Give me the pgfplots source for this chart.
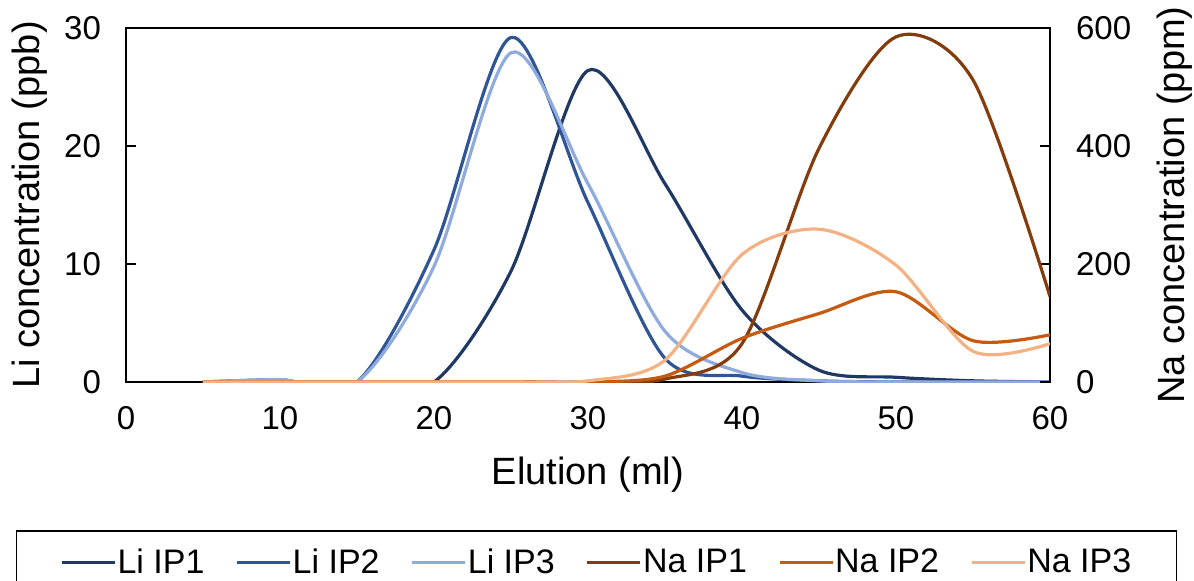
\documentclass[border=0pt]{standalone}
\usepackage{pgfplots}
\pgfplotsset{compat=1.18}
\usepackage{fontspec}
\setmainfont{Liberation Sans}
\definecolor{liA}{HTML}{1F3864}
\definecolor{liB}{HTML}{2F5597}
\definecolor{liC}{HTML}{8FAADC}
\definecolor{naA}{HTML}{843C0C}
\definecolor{naB}{HTML}{C55A11}
\definecolor{naC}{HTML}{F4B183}
\begin{document}
\begin{tikzpicture}
\pgfplotsset{
  common/.style={
    width=462pt, height=177pt, scale only axis,
    at={(0,0)}, anchor=south west,
    xmin=0, xmax=60,
    /pgf/number format/assume math mode=true,
    tick label style={font=\fontsize{16.5}{19}\selectfont},
    tick align=inside, major tick length=5pt,
    tick style={black, line width=0.9pt},
    every axis plot/.append style={line width=1.6pt, smooth, no markers},
  }
}
\begin{axis}[common,
  ymin=0, ymax=30, ytick={0,10,20,30},
  xtick={0,10,...,60},
  ytick pos=left, xtick pos=bottom,
  x tick style={draw=none},
  axis line style={black, line width=1pt},
  yticklabel style={xshift=-9pt},
  xticklabel style={yshift=-8.5pt},
  every axis y label/.style={at={(axis description cs:0,0.5)}, xshift=-48pt, rotate=90, anchor=center, font=\fontsize{19}{22}\selectfont},
  every axis x label/.style={at={(axis description cs:0.5,0)}, yshift=-46.5pt, anchor=center, font=\fontsize{19}{22}\selectfont},
  ylabel={Li concentration (ppb)},
  xlabel={Elution (ml)},
]
\addplot[color=liA] coordinates {(5,0) (10,0) (15,0) (20,0) (25,9.4) (30,26.4) (35,16.8) (40,6.1) (45,1.0) (50,0.4) (55,0.1) (60,0)};
\addplot[color=liB] coordinates {(5,0) (10,0.2) (15,0) (20,11.2) (25,29.2) (30,15.2) (35,2.0) (40,0.5) (45,0.1) (50,0) (55,0) (60,0)};
\addplot[color=liC] coordinates {(5,0) (10,0.2) (15,0) (20,9.8) (25,27.9) (30,16.8) (35,4.3) (40,0.8) (45,0.1) (50,0) (55,0) (60,0)};
\end{axis}
\begin{axis}[common,
  ymin=0, ymax=600, ytick={0,200,400,600},
  axis x line=none, axis y line*=right,
  axis line style={black, line width=1pt},
  yticklabel style={xshift=9.5pt},
  every axis y label/.style={at={(axis description cs:1,0.5)}, xshift=62.5pt, rotate=90, anchor=center, font=\fontsize{19}{22}\selectfont},
  ylabel={Na concentration (ppm)},
  legend columns=6,
  legend cell align=left,
  legend image code/.code={\draw[#1] (0pt,0pt) -- (26.5pt,0pt);},
  legend style={at={(axis description cs:0.509,0)}, yshift=-74pt, anchor=north,
    draw=black, line width=0.75pt, font=\fontsize{17}{20}\selectfont,
    inner xsep=22pt, inner ysep=6pt,
    nodes={inner xsep=0.5pt, inner ysep=3pt},
    /tikz/every even column/.append style={column sep=15pt}},
]
\addlegendimage{color=liA, line width=1.6pt}
\addlegendimage{color=liB, line width=1.6pt}
\addlegendimage{color=liC, line width=1.6pt}
\addplot[color=naA] coordinates {(5,0) (10,0) (15,0) (20,0) (25,0) (30,0) (35,5) (40,65) (45,396) (50,585) (55,512) (60,145)};
\addplot[color=naB] coordinates {(5,0) (10,0) (15,0) (20,0) (25,0) (30,0) (35,10) (40,74) (45,116) (50,153) (55,70) (60,80)};
\addplot[color=naC] coordinates {(5,0) (10,0) (15,0) (20,0) (25,0) (30,2) (35,37) (40,216) (45,259) (50,198) (55,52) (60,65)};
\legend{Li IP1, Li IP2, Li IP3, Na IP1, Na IP2, Na IP3}
\end{axis}
\pgfresetboundingbox
\path[use as bounding box] (-63pt,-99pt) rectangle (534pt,191pt);
\end{tikzpicture}
\end{document}
